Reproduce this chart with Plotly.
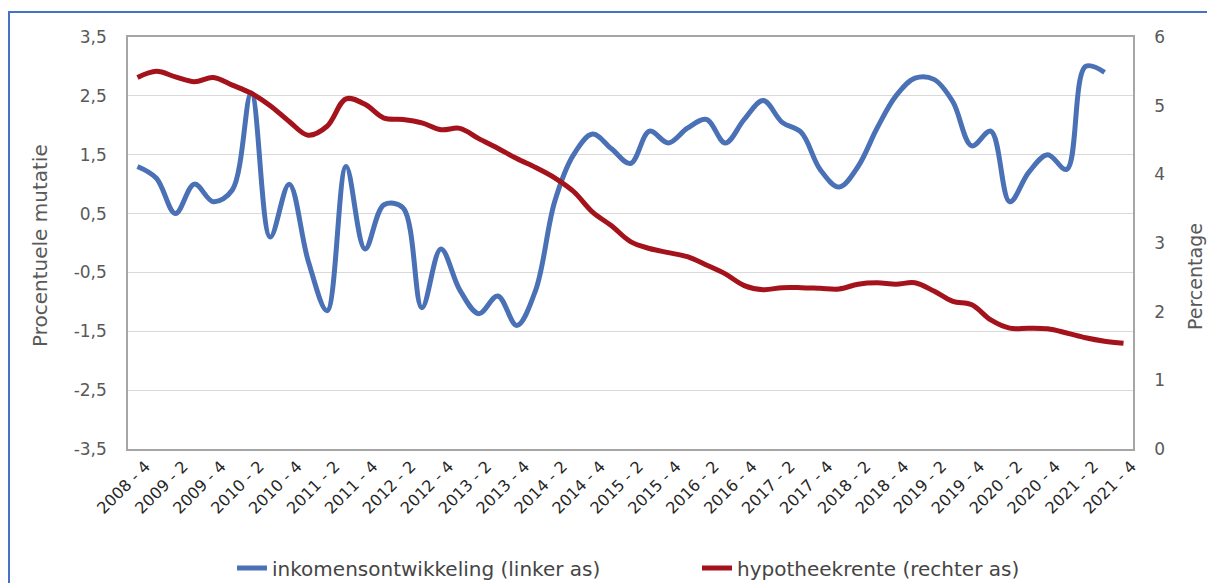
import plotly.graph_objects as go

# Quarterly categories 2008 Q4 .. 2021 Q4
quarters = ["2008 - 4"] + [f"{y} - {q}" for y in range(2009, 2022) for q in (1, 2, 3, 4)]

# Income development, % change (left axis) - last quarter not yet available
inkomen = [1.30, 1.10, 0.50, 1.00, 0.70, 0.90, 2.55, 0.10, 1.00, -0.30,
           -1.15, 1.30, -0.10, 0.65, 0.60, -1.10, -0.10, -0.80, -1.20, -0.90,
           -1.40, -0.80, 0.70, 1.50, 1.85, 1.60, 1.35, 1.90, 1.70, 1.95,
           2.10, 1.70, 2.10, 2.42, 2.05, 1.88, 1.25, 0.95, 1.30, 1.95,
           2.50, 2.80, 2.78, 2.40, 1.65, 1.90, 0.70, 1.20, 1.50, 1.25,
           3.00, 2.90, None]

# Mortgage rate, % (right axis)
hypotheekrente = [5.41, 5.50, 5.42, 5.35, 5.41, 5.30, 5.18, 5.00, 4.77, 4.57,
                  4.70, 5.10, 5.02, 4.82, 4.80, 4.75, 4.65, 4.67, 4.52, 4.38,
                  4.23, 4.10, 3.95, 3.75, 3.45, 3.25, 3.02, 2.92, 2.86, 2.80,
                  2.68, 2.55, 2.38, 2.32, 2.35, 2.35, 2.34, 2.33, 2.40, 2.42,
                  2.40, 2.42, 2.30, 2.15, 2.10, 1.88, 1.76, 1.76, 1.75, 1.69,
                  1.62, 1.57, 1.54]

left_ticks = [-3.5, -2.5, -1.5, -0.5, 0.5, 1.5, 2.5, 3.5]
left_labels = ["-3,5", "-2,5", "-1,5", "-0,5", "0,5", "1,5", "2,5", "3,5"]
right_ticks = [0, 1, 2, 3, 4, 5, 6]
x_ticks = quarters[::2]

BLUE = "#4A70B5"
RED = "#A4131B"
GREY = "#595959"
FONT = "DejaVu Sans, Verdana, sans-serif"

# plot-area geometry in page pixels
W, H = 1207, 583
L, R, T, B = 128, 74, 37, 134
PW, PH = W - L - R, H - T - B


def px(x):
    return (x - L) / PW


def py(y):
    return (H - B - y) / PH


fig = go.Figure()
fig.add_trace(go.Scatter(
    x=quarters, y=inkomen, name="inkomensontwikkeling (linker as)",
    mode="lines", line=dict(color=BLUE, width=5, shape="spline", smoothing=1.0),
    yaxis="y", connectgaps=False))
fig.add_trace(go.Scatter(
    x=quarters, y=hypotheekrente, name="hypotheekrente (rechter as)",
    mode="lines", line=dict(color=RED, width=5, shape="spline", smoothing=1.0),
    yaxis="y2"))

fig.update_layout(
    width=W, height=H,
    margin=dict(l=L, r=R, t=T, b=B, pad=0, autoexpand=False),
    paper_bgcolor="white", plot_bgcolor="white",
    font=dict(family=FONT, color=GREY),
    showlegend=True,
    legend=dict(orientation="h", x=px(232), xanchor="left", y=py(568), yanchor="middle",
                font=dict(size=20, color="#454545"), entrywidth=420, itemwidth=30,
                bgcolor="rgba(0,0,0,0)"),
    xaxis=dict(type="category", categoryorder="array", categoryarray=quarters,
               range=[-0.5, len(quarters) - 0.5],
               tickmode="array", tickvals=x_ticks, ticktext=x_ticks,
               tickangle=-45, tickfont=dict(size=16, color="#262626"),
               ticklabelshift=8,
               showgrid=False, ticks="", showline=True, mirror=True,
               linecolor="#A6A6A6", linewidth=1.5, zeroline=False),
    yaxis=dict(range=[-3.5, 3.5], tickmode="array", tickvals=left_ticks,
               ticktext=left_labels, tickfont=dict(size=17, color=GREY),
               showgrid=True, gridcolor="#D9D9D9", gridwidth=1.2,
               showline=True, linecolor="#A6A6A6", linewidth=1.5, mirror=True,
               zeroline=False, ticks="", ticklabelstandoff=16),
    yaxis2=dict(range=[0, 6], overlaying="y", side="right", tickmode="array",
                tickvals=right_ticks, tickfont=dict(size=17, color=GREY),
                showgrid=False, zeroline=False, showline=True,
                linecolor="#A6A6A6", linewidth=1.5, ticks="", ticklabelstandoff=16),
)

# axis titles
fig.add_annotation(text="Procentuele mutatie", xref="paper", yref="paper",
                   x=px(40), y=py(246), textangle=-90, showarrow=False,
                   font=dict(size=20, color=GREY), xanchor="center", yanchor="middle")
fig.add_annotation(text="Percentage", xref="paper", yref="paper",
                   x=px(1195), y=py(277), textangle=-90, showarrow=False,
                   font=dict(size=19, color=GREY), xanchor="center", yanchor="middle")

# heading, cut off by the top of the page
fig.add_annotation(text="<b>Hypotheekrente, inkomensontwikkeling</b>", xref="paper", yref="paper",
                   x=px(11), y=py(-16), showarrow=False, xanchor="left", yanchor="middle",
                   font=dict(family="Liberation Sans, Arial, sans-serif", size=27, color="#111111"))

# blue frame around the figure (top and left edges fall inside the page)
FRAME = dict(color="#4472C4", width=2)
fig.add_shape(type="line", xref="paper", yref="paper",
              x0=px(8), x1=px(W + 5), y0=py(12), y1=py(12), line=FRAME)
fig.add_shape(type="line", xref="paper", yref="paper",
              x0=px(9), x1=px(9), y0=py(12), y1=py(H + 5), line=FRAME)

fig.write_html("out.html")
